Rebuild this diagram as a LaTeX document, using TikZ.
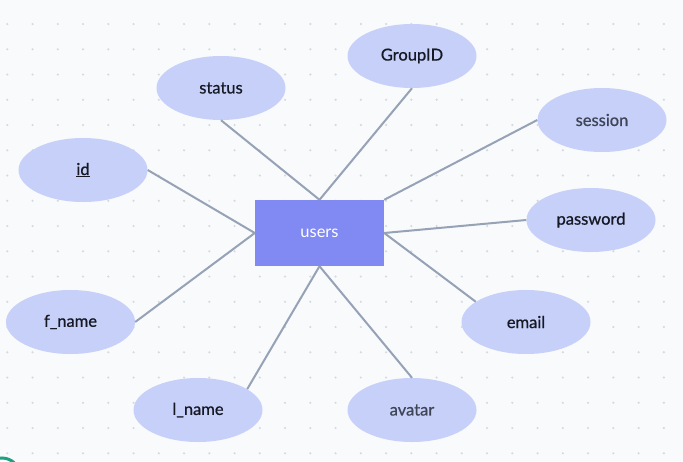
\documentclass[tikz,border=0pt]{standalone}
\usepackage{fontspec}
\setmainfont{Lato}
\newfontfamily\attrfont[FakeBold=0.7]{Lato}
\usetikzlibrary{shapes.geometric}
\definecolor{bgc}{RGB}{249,250,252}
\definecolor{dotc}{RGB}{214,217,225}
\definecolor{attrc}{RGB}{198,208,248}
\definecolor{entc}{RGB}{129,137,242}
\definecolor{edgec}{RGB}{150,162,182}
\definecolor{txtc}{RGB}{22,24,36}
\definecolor{txtg}{RGB}{62,68,86}
\definecolor{tealc}{RGB}{30,160,130}
\tikzset{
  attr/.style={ellipse, fill=attrc, minimum width=129pt, minimum height=64pt, inner sep=0pt,
    font=\attrfont\fontsize{16.5}{19}\selectfont, text=txtc},
  attrg/.style={attr, text=txtg},
  entity/.style={rectangle, fill=entc, minimum width=129pt, minimum height=66pt, inner sep=0pt,
    font=\fontsize{16.5}{19}\selectfont, text=white},
  link/.style={draw=edgec, line width=2pt}
}
\begin{document}
\begin{tikzpicture}[x=1pt,y=-1pt]
\useasboundingbox (0,0) rectangle (683,461);
\fill[bgc] (0,0) rectangle (683,461);
\begin{scope}
\clip (0,0) rectangle (683,461);
\foreach \i in {0,...,26}{
  \foreach \j in {0,...,18}{
    \fill[dotc] ({7.3+25.25*\i},{-1.25+25.25*\j}) circle (1.2pt);
  }
}
\draw[tealc, line width=3pt] (2,476) circle (18pt);
\end{scope}

\node[entity] (users) at (319.5,233) {users};
\node[attr] (status) at (221,88) {status};
\node[attr] (id) at (83,170) {\underline{id}};
\node[attr] (groupid) at (412,56) {GroupID};
\node[attrg] (session) at (602,120) {session};
\node[attr] (password) at (591,220) {password};
\node[attr] (fname) at (70.5,322) {f\_name};
\node[attr] (lname) at (198,410) {l\_name};
\node[attr] (email) at (526,322) {email};
\node[attrg] (avatar) at (412,410) {avatar};

\draw[link] (status.south) -- (users.north);
\draw[link] (groupid.south) -- (users.north);
\draw[link] (session.west) -- (users.north east);
\draw[link] (password.west) -- (users.east);
\draw[link] (email.158) -- (users.east);
\draw[link] (id.east) -- (users.west);
\draw[link] (fname.east) -- (users.west);
\draw[link] (lname.23) -- (users.south);
\draw[link] (avatar.north) -- (users.south);
\end{tikzpicture}
\end{document}
